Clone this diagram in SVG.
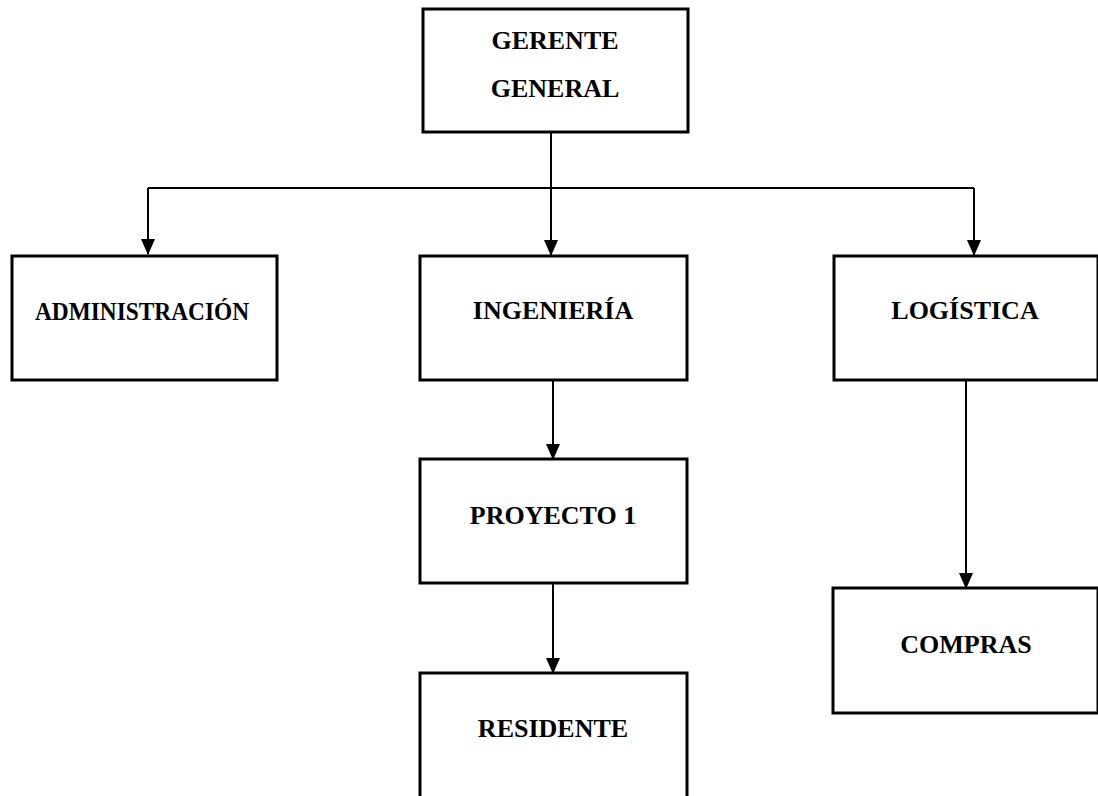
<svg xmlns="http://www.w3.org/2000/svg" width="1098" height="796" viewBox="0 0 1098 796">
<style>
.box{fill:#fff;stroke:#000;stroke-width:3}
.lbl{font-family:"Liberation Serif","Times New Roman",serif;font-weight:bold;font-size:26px;fill:#000;text-anchor:middle}
.con{stroke:#000;stroke-width:2;fill:none}
.arrow{marker-end:url(#arr)}
</style>
<defs>
<marker id="arr" viewBox="0 0 16 14" refX="15" refY="7" markerWidth="16" markerHeight="14" markerUnits="userSpaceOnUse" orient="auto">
<path d="M0,0 L16,7 L0,14 Z" fill="#000"/>
</marker>
</defs>
<rect width="1098" height="796" fill="#fff"/>
<g id="connectors">
<line class="con" x1="551" y1="132" x2="551" y2="188"/>
<line class="con" x1="148" y1="188" x2="974" y2="188"/>
<path class="con arrow" d="M148,188 V254"/>
<path class="con arrow" d="M551,188 V255"/>
<path class="con arrow" d="M974,188 V255"/>
<path class="con arrow" d="M553,380 V459"/>
<path class="con arrow" d="M553,583 V673"/>
<path class="con arrow" d="M966,380 V588"/>
</g>
<g id="gerente">
<rect class="box" x="423" y="9" width="265" height="123"/>
<text class="lbl" x="555" y="49">GERENTE</text>
<text class="lbl" x="555" y="97">GENERAL</text>
</g>
<g id="administracion">
<rect class="box" x="12" y="256" width="265" height="124"/>
<text class="lbl" x="142" y="320" textLength="214" lengthAdjust="spacingAndGlyphs">ADMINISTRACIÓN</text>
</g>
<g id="ingenieria">
<rect class="box" x="420" y="256" width="267" height="124"/>
<text class="lbl" x="553" y="319">INGENIERÍA</text>
</g>
<g id="logistica">
<rect class="box" x="834" y="256" width="264" height="124"/>
<text class="lbl" x="965" y="319">LOGÍSTICA</text>
</g>
<g id="proyecto1">
<rect class="box" x="420" y="459" width="267" height="124"/>
<text class="lbl" x="553" y="524">PROYECTO 1</text>
</g>
<g id="residente">
<rect class="box" x="420" y="673" width="267" height="140"/>
<text class="lbl" x="553" y="737">RESIDENTE</text>
</g>
<g id="compras">
<rect class="box" x="833" y="588" width="265" height="125"/>
<text class="lbl" x="966" y="653">COMPRAS</text>
</g>
</svg>
